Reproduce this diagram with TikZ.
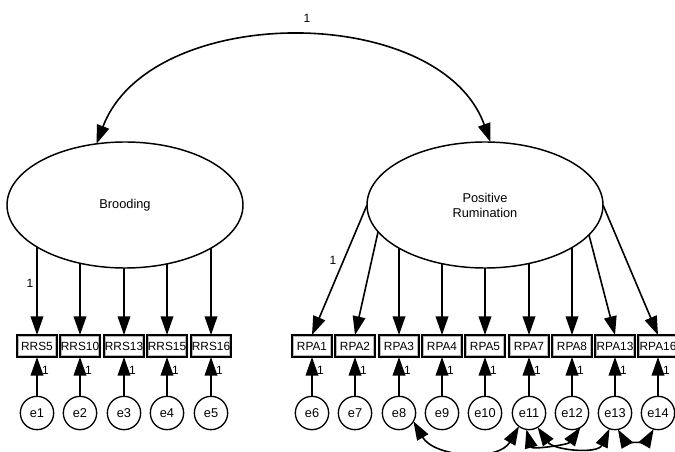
\documentclass[tikz,border=0pt]{standalone}
\usepackage{fontspec}
\setmainfont{Liberation Sans}
\usetikzlibrary{arrows.meta,shapes.geometric}
\begin{document}
\begin{tikzpicture}[x=0.75pt,y=-0.75pt,
  latent/.style={ellipse,draw=black,line width=1.1pt,fill=white,minimum width=177pt,minimum height=94.5pt,inner sep=0pt,outer sep=0pt,align=center,font=\fontsize{9.6}{11.2}\selectfont},
  obs/.style={rectangle,draw=black,line width=1.2pt,fill=white,minimum width=30pt,minimum height=16.5pt,inner sep=0pt,outer sep=0pt,font=\fontsize{8.9}{10}\selectfont,
    path picture={\draw[gray!55,line width=2.4pt] (path picture bounding box.south west) rectangle (path picture bounding box.north east);}},
  err/.style={circle,draw=black,line width=1pt,fill=white,minimum size=25pt,inner sep=0pt,outer sep=0pt,font=\fontsize{9.6}{10}\selectfont},
  tip/.tip={Triangle[length=14pt,width=9.5pt]},
  arr/.style={line width=1.2pt,-tip},
  cov/.style={line width=1.2pt,tip-tip},
  lab/.style={font=\fontsize{9}{10}\selectfont,inner sep=0pt}
]
\useasboundingbox (0,0) rectangle (675,452);

% latent variables
\node[latent] (B) at (125,205) {Brooding};
\node[latent] (PR) at (485,205) {Positive\\Rumination};

% observed indicators
\foreach \n/\x in {RRS5/37,RRS10/80,RRS13/124,RRS15/167,RRS16/211,
                   RPA1/312,RPA2/355,RPA3/399,RPA4/442,RPA5/485,RPA7/529,RPA8/572,RPA13/615,RPA16/658}
  \node[obs] (\n) at (\x,346) {\n};

% error terms
\foreach \e/\x in {e1/37,e2/80,e3/124,e4/167,e5/211,
                   e6/312,e7/355,e8/399,e9/442,e10/485,e11/529,e12/572,e13/615,e14/658}
  \node[err] (\e) at (\x,413) {\e};

% correlation between latent variables
\draw[cov] (B.115) .. controls (150,2) and (440,2) .. (PR.85);
\node[lab] (r1) at (307,18) {1};

% loadings Brooding
\foreach \n/\a in {RRS5/206,RRS10/232,RRS13/269,RRS15/305,RRS16/333}
  \draw[arr] (\n.north |- B.\a) -- (\n.north);
\node[lab] (l1) at (30,283) {1};

% loadings Positive Rumination
\draw[arr] (PR.180) -- (RPA1.north);
\draw[arr] (PR.194) -- (RPA2.north);
\foreach \n/\a in {RPA3/207,RPA4/234,RPA5/270,RPA7/307,RPA8/334}
  \draw[arr] (\n.north |- PR.\a) -- (\n.north);
\draw[arr] (PR.344) -- (RPA13.north);
\draw[arr] (PR.0) -- (RPA16.north);
\node[lab] (l2) at (333,260) {1};

% error paths
\foreach \e/\n/\x in {e1/RRS5/37,e2/RRS10/80,e3/RRS13/124,e4/RRS15/167,e5/RRS16/211,
                      e6/RPA1/312,e7/RPA2/355,e8/RPA3/399,e9/RPA4/442,e10/RPA5/485,
                      e11/RPA7/529,e12/RPA8/572,e13/RPA13/615,e14/RPA16/658}{
  \draw[arr] (\e.north) -- (\n.south);
  \node[lab] (w\e) at (\x+8.5,370) {1};
}

% error covariances
\draw[cov] (e8.330) to[out=-60,in=-120] (e11.233);
\draw[cov] (e11.261) to[out=-75,in=-125] (e12.300);
\draw[cov] (e11.301) to[out=-55,in=-115] (e13.251);
\draw[cov] (e13.280) to[out=-60,in=-120] (e14.255);
\end{tikzpicture}
\end{document}
